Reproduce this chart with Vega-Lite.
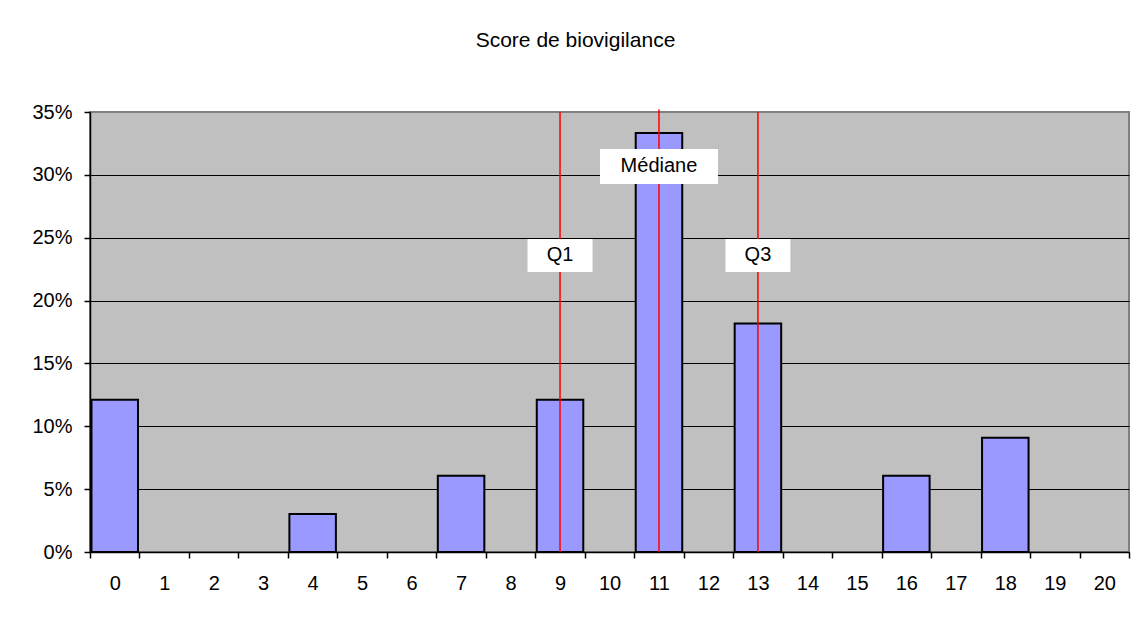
{
  "$schema": "https://vega.github.io/schema/vega-lite/v6.json",
  "autosize": {"type": "none"},
  "padding": {"left": 90, "top": 112, "right": 4, "bottom": 68},
  "width": 1039,
  "height": 440,
  "background": "white",
  "title": {
    "text": "Score de biovigilance",
    "font": "Liberation Sans",
    "fontSize": 21,
    "fontWeight": "normal",
    "color": "black",
    "anchor": "middle",
    "dx": -34,
    "baseline": "alphabetic",
    "offset": 34
  },
  "config": {
    "view": {"fill": "#C0C0C0", "stroke": "#808080", "strokeWidth": 2},
    "font": "Liberation Sans"
  },
  "datasets": {
    "scores": [
      {"score": 0, "pct": 0.1212},
      {"score": 4, "pct": 0.0303},
      {"score": 7, "pct": 0.0606},
      {"score": 9, "pct": 0.1212},
      {"score": 11, "pct": 0.3333},
      {"score": 13, "pct": 0.1818},
      {"score": 16, "pct": 0.0606},
      {"score": 18, "pct": 0.0909}
    ],
    "stats": [
      {"stat": "Q1", "score": 9, "top": 0.35, "bottom": 0, "labely": 0.2359},
      {"stat": "Médiane", "score": 11, "top": 0.352, "bottom": 0, "labely": 0.3067},
      {"stat": "Q3", "score": 13, "top": 0.35, "bottom": 0, "labely": 0.2359}
    ]
  },
  "encoding": {
    "x": {
      "field": "score",
      "type": "ordinal",
      "scale": {"domain": [0,1,2,3,4,5,6,7,8,9,10,11,12,13,14,15,16,17,18,19,20], "paddingInner": 0, "paddingOuter": 0},
      "axis": {
        "title": null,
        "labelAngle": 0,
        "tickBand": "extent",
        "domainColor": "black",
        "domainWidth": 1.5,
        "tickColor": "black",
        "tickWidth": 1.5,
        "tickSize": 6,
        "labelFontSize": 20,
        "labelFont": "Liberation Sans",
        "labelColor": "black",
        "labelPadding": 15,
        "grid": false
      }
    }
  },
  "layer": [
    {
      "data": {"name": "scores"},
      "mark": {"type": "bar", "fill": "#9999FF", "stroke": "black", "strokeWidth": 2, "width": {"band": 0.94}},
      "encoding": {
        "y": {
          "field": "pct",
          "type": "quantitative",
          "scale": {"domain": [0, 0.35], "nice": false},
          "axis": {
            "title": null,
            "format": ".0%",
            "values": [0, 0.05, 0.1, 0.15, 0.2, 0.25, 0.3, 0.35],
            "grid": true,
            "gridColor": {"condition": {"test": "datum.value >= 0.349", "value": "#808080"}, "value": "#000000"},
            "gridWidth": 1,
            "domainColor": "black",
            "domainWidth": 1.5,
            "tickColor": "black",
            "tickWidth": 1.5,
            "tickSize": 6,
            "labelFontSize": 20,
            "labelFont": "Liberation Sans",
            "labelColor": "black",
            "labelPadding": 12
          }
        }
      }
    },
    {
      "data": {"name": "stats"},
      "mark": {"type": "rule", "color": "#FF0000", "strokeWidth": 1.5},
      "encoding": {
        "y": {"field": "top", "type": "quantitative"},
        "y2": {"field": "bottom"}
      }
    },
    {
      "data": {"name": "stats"},
      "transform": [{"filter": "datum.stat === 'Médiane'"}],
      "mark": {"type": "point", "filled": true, "fill": "white", "opacity": 1, "strokeWidth": 0, "size": 4, "shape": "M-59,-17.5H59V17.5H-59Z"},
      "encoding": {
        "y": {"field": "labely", "type": "quantitative"}
      }
    },
    {
      "data": {"name": "stats"},
      "transform": [{"filter": "datum.stat !== 'Médiane'"}],
      "mark": {"type": "point", "filled": true, "fill": "white", "opacity": 1, "strokeWidth": 0, "size": 4, "shape": "M-32.5,-16.5H32.5V16.5H-32.5Z"},
      "encoding": {
        "y": {"field": "labely", "type": "quantitative"}
      }
    },
    {
      "data": {"name": "stats"},
      "mark": {"type": "text", "font": "Liberation Sans", "fontSize": 20, "color": "black", "baseline": "middle", "align": "center"},
      "encoding": {
        "y": {"field": "labely", "type": "quantitative"},
        "text": {"field": "stat"}
      }
    }
  ]
}
